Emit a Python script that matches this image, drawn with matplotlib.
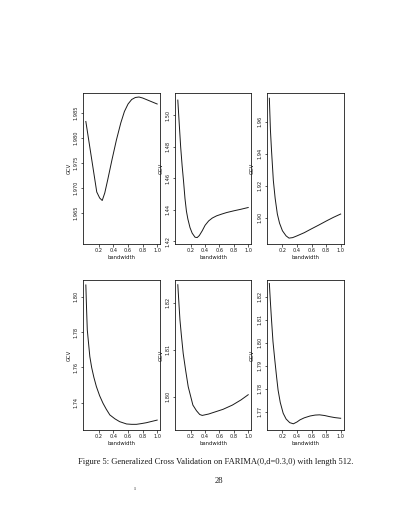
import numpy as np
import matplotlib
matplotlib.use("Agg")
import matplotlib.pyplot as plt

# ---- data ----
x1 = [0.02, 0.07, 0.12, 0.17, 0.21, 0.245, 0.28, 0.32, 0.38, 0.44, 0.50, 0.55, 0.60, 0.65, 0.70, 0.75, 0.80, 0.85, 0.90, 0.95, 1.00]
g1 = [1.9833, 1.9786, 1.9739, 1.9692, 1.9680, 1.9675, 1.9690, 1.9716, 1.9757, 1.9796, 1.9830, 1.9853, 1.9868, 1.9877, 1.9881, 1.9882, 1.9880, 1.9877, 1.9874, 1.9871, 1.9868]

x2 = [0.02, 0.04, 0.06, 0.08, 0.10, 0.12, 0.14, 0.16, 0.19, 0.22, 0.26, 0.29, 0.32, 0.36, 0.40, 0.45, 0.50, 0.56, 0.63, 0.70, 0.80, 0.90, 1.00]
g2 = [1.5096, 1.4945, 1.4797, 1.4680, 1.4580, 1.4470, 1.4390, 1.4340, 1.4285, 1.4250, 1.4224, 1.4222, 1.4235, 1.4265, 1.4300, 1.4328, 1.4346, 1.4360, 1.4371, 1.4381, 1.4392, 1.4402, 1.4413]

x3 = [0.02, 0.035, 0.05, 0.075, 0.10, 0.13, 0.16, 0.20, 0.25, 0.29, 0.34, 0.40, 0.50, 0.59, 0.70, 0.81, 0.90, 1.00]
g3 = [1.9748, 1.9548, 1.9420, 1.9232, 1.9120, 1.9022, 1.8965, 1.8917, 1.8885, 1.8871, 1.8874, 1.8885, 1.8905, 1.8927, 1.8953, 1.8980, 1.9001, 1.9022]

x4 = [0.02, 0.03, 0.04, 0.06, 0.075, 0.10, 0.13, 0.165, 0.21, 0.256, 0.30, 0.35, 0.42, 0.485, 0.58, 0.65, 0.715, 0.78, 0.85, 0.92, 1.00]
g4 = [1.8066, 1.7930, 1.7812, 1.7725, 1.7661, 1.7600, 1.7545, 1.7492, 1.7440, 1.7398, 1.7365, 1.7332, 1.7310, 1.7294, 1.7281, 1.7279, 1.7279, 1.7283, 1.7288, 1.7295, 1.7303]

x5 = [0.02, 0.035, 0.05, 0.07, 0.095, 0.13, 0.165, 0.20, 0.23, 0.28, 0.325, 0.36, 0.39, 0.45, 0.55, 0.65, 0.78, 0.90, 1.00]
g5 = [1.8238, 1.8200, 1.8163, 1.8130, 1.8092, 1.8055, 1.8021, 1.8000, 1.7982, 1.7970, 1.7962, 1.7960, 1.7961, 1.7963, 1.7968, 1.7973, 1.7982, 1.7993, 1.8004]

x6 = [0.02, 0.035, 0.05, 0.07, 0.095, 0.12, 0.14, 0.17, 0.21, 0.25, 0.30, 0.35, 0.40, 0.44, 0.50, 0.58, 0.65, 0.71, 0.78, 0.85, 0.92, 1.00]
g6 = [1.8258, 1.8175, 1.8099, 1.8005, 1.7925, 1.7850, 1.7794, 1.7740, 1.7693, 1.7668, 1.7652, 1.7647, 1.7655, 1.7664, 1.7673, 1.7681, 1.7685, 1.7686, 1.7683, 1.7678, 1.7674, 1.7671]

xticks = [0.2, 0.4, 0.6, 0.8, 1.0]
xticklabels = ["0.2", "0.4", "0.6", "0.8", "1.0"]

yticks1 = [1.965, 1.970, 1.975, 1.980, 1.985]
yticks2 = [1.42, 1.44, 1.46, 1.48, 1.50]
yticks3 = [1.90, 1.92, 1.94, 1.96]
yticks4 = [1.74, 1.76, 1.78, 1.80]
yticks5 = [1.80, 1.81, 1.82]
yticks6 = [1.77, 1.78, 1.79, 1.80, 1.81, 1.82]

ylims = [(1.9588, 1.9890), (1.4181, 1.5141), (1.8834, 1.9781),
         (1.7247, 1.8094), (1.7929, 1.8248), (1.7620, 1.8273)]

caption = "Figure 5: Generalized Cross Validation on FARIMA(0,d=0.3,0) with length 512."
page_no = "28"

# ---- figure ----
W, H = 400, 518
fig = plt.figure(figsize=(W / 100, H / 100), dpi=100)
fig.patch.set_facecolor("white")

cols = [(83, 160), (175, 251), (266.5, 343.5)]
rows = [(93, 244), (280, 430)]

series = [(x1, g1, yticks1), (x2, g2, yticks2), (x3, g3, yticks3),
          (x4, g4, yticks4), (x5, g5, yticks5), (x6, g6, yticks6)]

ink = "#1a1a1a"
for i, (xs, gs, yt) in enumerate(series):
    r, c = divmod(i, 3)
    l, rr = cols[c]
    t, b = rows[r]
    ax = fig.add_axes([l / W, 1 - b / H, (rr - l) / W, (b - t) / H])
    ax.plot(xs, gs, color=ink, lw=0.7)
    ax.set_xlim(-0.019, 1.039)
    ax.set_ylim(*ylims[i])
    ax.set_xticks(xticks)
    ax.set_xticklabels(xticklabels)
    ax.set_yticks(yt)
    ax.set_yticklabels([f"{v:.3f}" if i == 0 else f"{v:.2f}" for v in yt],
                       rotation=90, va="center")
    ax.tick_params(axis="both", direction="out", length=1.8, width=0.5,
                   labelsize=3.6, pad=1.2, colors=ink)
    for s in ax.spines.values():
        s.set_linewidth(0.6)
        s.set_color(ink)
    ax.set_xlabel("bandwidth", fontsize=3.8, labelpad=1.5, color=ink)
    ax.set_ylabel("GCV", fontsize=3.8, labelpad=1.5, color=ink)

fig.text(216 / W, 1 - 462 / H, caption, ha="center", va="center",
         fontsize=6.1, family="Liberation Serif", color=ink)
fig.text(219 / W, 1 - 481 / H, page_no, ha="center", va="center",
         fontsize=6.1, family="Liberation Serif", color=ink)
fig.text(135 / W, 1 - 488 / H, "ı", ha="center", va="center",
         fontsize=5, family="Liberation Serif", color="#555555")

fig.savefig("out.png", dpi=100, facecolor="white")
